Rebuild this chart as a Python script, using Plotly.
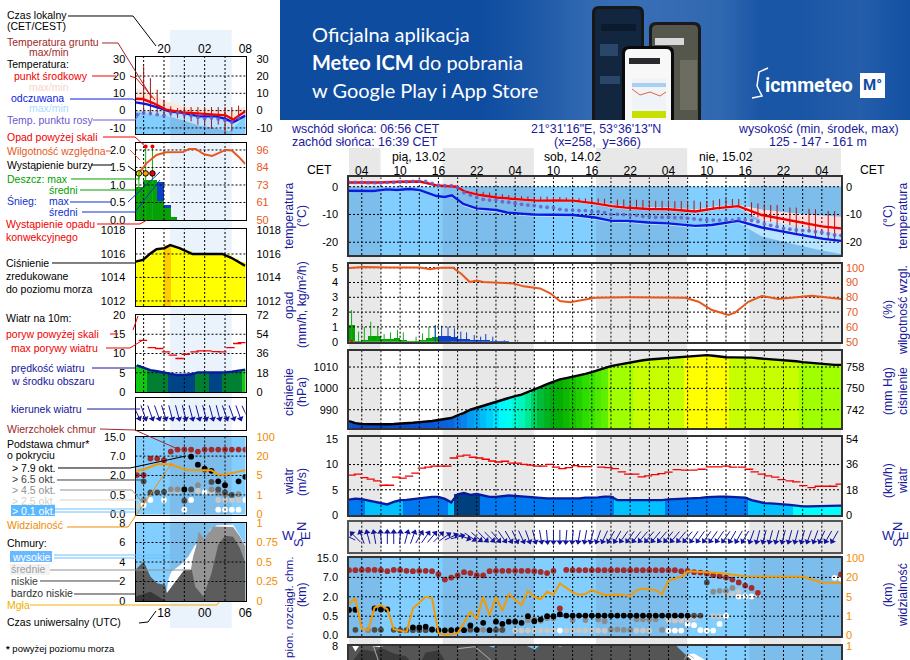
import numpy as np
import plotly.graph_objects as go
from plotly.colors import sample_colorscale

W, H = 910, 660
FONT = "Liberation Sans"
NAVY = "#1a1a9c"
ORANGE = "#f08c00"
RH_COL = "#e8581c"

# ---- large meteogram (hours since 13.02 00:00 CET)
RED_H = [2, 6.9, 10, 13.1, 15.7, 18.8, 20.2, 22.5, 25.1, 28.2, 31.4, 34.5, 37.1, 40.5, 43.1, 45.7, 48.8, 52, 56.2, 59.3, 62.9, 66.6, 71.8, 76, 79]
RED_T = [1.5, 1.5, 1.8, 1.9, .5, 0, -1.8, -3, -3.9, -4.5, -5, -4.9, -5, -6, -7, -7.6, -8, -8.1, -8.9, -7.8, -7, -10.2, -12.6, -14.3, -15]
RED_MAX = [1.9, 1.9, 2.2, 2.3, 1, .4, -1.4, -2.5, -3.4, -4, -4.5, -4.4, -4.5, -5.4, -6.4, -7, -7.4, -7.5, -8.2, -7, -6.5, -8.2, -9.6, -10.4, -10.8]
RED_MIN = [1.1, 1.1, 1.4, 1.5, 0, -.5, -2.3, -3.5, -4.4, -5, -5.5, -5.4, -5.5, -6.6, -7.6, -8.2, -8.6, -8.7, -9.5, -8.4, -7.6, -12.1, -14.6, -16.2, -17.2]
FELT_H = [2, 5.8, 7.9, 9.5, 11.5, 13.1, 15.7, 17, 18.1, 19.9, 22, 25.1, 26.7, 30.8, 37.1, 40.5, 43.1, 45.7, 48.8, 52, 56.2, 58.8, 62.9, 66.6, 71.8, 76, 79]
FELT_T = [-1.44, -1.56, -.96, -1.2, -.84, -1.2, -3.35, -3.7, -3.1, -6.2, -7.8, -8.4, -9.3, -10, -10.2, -11.1, -12.3, -12.3, -12.9, -13.2, -14.1, -13.8, -12.3, -14.7, -17, -18.7, -19.5]
FELT_MAX = [-1.1, -1.2, -.6, -.9, -.5, -.9, -3, -3.3, -2.7, -5.6, -7.3, -8, -8.9, -9.6, -9.8, -10.7, -11.9, -11.9, -12.5, -12.8, -13.7, -13.4, -11.9, -12, -14, -16, -17.2]
FELT_MIN = [-1.9, -2, -1.4, -1.7, -1.3, -1.7, -3.9, -4.2, -3.7, -7, -8.6, -9.2, -10, -10.8, -11, -11.9, -13, -13, -13.7, -14, -14.9, -14.6, -13, -17.9, -20.8, -23, -24.2]
DEW_H = list(range(2, 80))
DEW_T = [1.55, 1.55, 1.55, 1.45, 1.45, 1.45, 1.55, 1.55, 1.7, 1.8, 1.9, 2.05, 1.9, 1.2, .6, .35, .35, -.35,
         -2.15, -3, -3.85, -4.55, -4.8, -4.8, -5.4, -5.6, -6, -6.35, -6.6, -6.8, -7.2, -7.4, -7.55, -8.15, -8.4, -8.4, -8.6, -8.6, -9,
         -9, -9.35, -9.95, -9.95, -10.05, -10.2, -10.3, -10.65, -10.8, -11, -11, -11, -11.15, -11.15, -11.4, -11.6, -11.85, -12, -12, -12, -12, -12, -11.6, -12, -12.2, -12.6, -13.4, -13.9, -14.4, -15, -15.3, -15.6, -15.8, -15.9, -16.2, -16.4, -16.9, -17.4, -17.5]
GROUND_H = [22, 23, 24, 25, 26, 27, 28, 29, 30, 31, 32, 33, 34, 35, 36, 37, 38, 39, 40, 41, 42, 44, 45, 46, 47, 48, 49, 50, 51, 52, 53, 54, 55, 56, 57, 58, 59, 60, 61, 62, 63, 65, 66, 67, 68, 69, 71, 72, 74, 75, 77, 78]
GROUND_MAX = [-1.6, -1.8, -2.1, -2.5, -2.7, -3, -3.2, -3.4, -3.5, -3.6, -3.6, -3.6, -3.6, -3.7, -3.9, -4, -4.1, -4.2, -4.2, -4.2, -4.3, -4.6, -4.6, -4.6, -4.7, -4.8, -4.9, -5.1, -5.1, -5, -5.2, -5.2, -5.2, -5, -5.4, -5.4, -4.9, -4.4, -4.4, -4.4, -4.4, -5.6, -6, -6.3, -6.6, -6.6, -7.5, -7.5, -8, -8.1, -8.7, -8.7]
GROUND_MIN = [-3, -3.3, -3.7, -4, -4.2, -4.4, -4.6, -4.8, -5, -5.2, -5.2, -5.2, -5.1, -5.2, -5.2, -5.3, -5.5, -5.8, -6, -6.3, -6.7, -7.3, -7.6, -7.8, -8, -8.1, -8.1, -8.2, -8.2, -8.3, -8.5, -8.6, -8.8, -9, -8.7, -8.7, -8.4, -8.2, -7.5, -7.3, -7.3, -10.8, -11.1, -12.6, -12.6, -13.8, -13.8, -17.1, -16.2, -18.6, -19.2, -19.8]

RH_H = [2, 4.2, 8.4, 13.1, 14.7, 16.2, 18.3, 19.6, 20.9, 22, 23, 25.1, 27.7, 29.3, 31.9, 33.5, 35, 36.6, 40.5, 45.7, 54.6, 56.7, 58.8, 61.4, 62.4, 64.5, 66.6, 69.2, 74.4, 79]
RH = [99.8, 100.4, 100.2, 100.2, 98.9, 100, 100, 95.7, 90.3, 91.4, 90.3, 90.1, 89.4, 87.4, 86, 82.7, 77.5, 76.6, 79.7, 80, 79.7, 77, 71.4, 68, 69.6, 77, 80.9, 78.8, 81, 78.8]
RAIN_H = list(range(2, 18))
RAIN_MEAN = [1.13, .02, .1, .38, .38, .18, .15, .22, .1, .02, .02, .1, .25, .3, .15, .05]
SNOW_H = list(range(16, 27))
SNOW_MEAN = [.38, .38, .35, .2, .2, .1, .07, .05, .02, .02, .02]
RAIN_SPIKE_H = [2.4, 3.5, 4.4, 5.4, 6.5, 7.5, 8.5, 9.6, 10.5, 12.5, 13.5, 14.5, 15.5]
RAIN_SPIKE = [2.14, .68, 1, 1.35, 1.05, .52, .63, .8, .63, .34, .56, 1, 1.1]
SNOW_SPIKE_H = [15.5, 16.5, 17.5, 18.5, 19.5, 20.4, 21.6, 22.6, 23.4, 24.5, 26.3, 28.4, 32.7]
SNOW_SPIKE = [1.13, 1.08, 1, .9, .68, .63, .45, .34, .52, .34, .1, .1, .07]

PRESS_H = list(range(2, 80))
PRESS = [984.7, 983.7, 983.3, 983.2, 983.1, 983.1, 983.2, 983.3, 983.4, 983.6, 983.9, 984.2, 984.4, 984.7, 985.2, 985.6, 986.1, 987.4, 988.5, 990, 990.9, 992, 992.9, 993.9, 994.8, 995.6, 996.4, 997.1, 998.2, 999.3,
         1000.7, 1002, 1003.2, 1004.2, 1004.8, 1005.4, 1006, 1006.8, 1007.6, 1008.6, 1009.5, 1010.4, 1011, 1011.6, 1012.1, 1012.7, 1013.2, 1013.5, 1013.7, 1013.9, 1014.1, 1014.3, 1014.5, 1014.8, 1015.1, 1015.4, 1015.6, 1015.3, 1014.9, 1014.6,
         1014.5, 1014.5, 1014.5, 1014.4, 1014.1, 1013.9, 1013.6, 1013.4, 1013.2, 1012.9, 1012.7, 1012.3, 1012, 1011.6, 1011.3, 1011.1, 1011, 1011]

WIND_H = list(range(2, 80))
WIND = [3.05, 3.25, 3.15, 2.9, 2.7, 2.3, 2.1, 2.6, 2.95, 3.0, 3.15, 3.4, 3.5, 3.6, 3.6, 3.2, 2.5, 4.1, 4.35, 4.0, 4.15, 3.8, 3.6, 3.6, 3.75, 3.85, 3.8, 3.7, 3.6, 3.4, 3.3, 3.3, 3.3, 3.3, 3.3, 3.25, 3.3, 3.45, 3.45,
        3.5, 3.65, 3.65, 2.95, 2.95, 2.95, 2.85, 2.8, 2.85, 2.95, 2.95, 3.1, 3.15, 3.2, 3.2, 3.25, 3.4, 3.55, 3.65, 3.65, 3.65, 3.6, 3.5, 3.45, 2.95, 2.6, 2.35, 2.3, 2.25, 2.1, 2.0, 1.8, 1.7, 1.7, 1.75, 1.8, 1.85, 1.85, 1.85]
GUST_H = [2.4, 3.4, 4.4, 5.4, 6.4, 7.4, 8.4, 9.4, 10.4, 11.4, 12.4, 13.4, 14.4, 15.4, 16.4, 17.4, 18.4, 19.4, 20.4, 21.4, 22.4, 23.4, 24.4, 25.4, 26.4, 27.4, 28.4, 29.4, 30.4, 31.4, 32.4, 33.4, 34.4, 35.4, 36.4, 37.4, 38.4, 39.4,
          41.5, 42.6, 43.6, 44.7, 45.7, 46.8, 47.8, 48.8, 49.9, 50.9, 52, 53.3, 54.6, 55.9, 57.2, 58.5, 59.8, 61.1, 62.1, 63.5, 64.6, 65.5, 66.6, 67.6, 68.7, 69.7, 71, 72, 73.1, 74.4, 75.5, 76.8, 77.8, 78.8]
GUST = [7.9, 8.1, 7.4, 7.1, 6.75, 5.9, 5.9, 7.5, 7.3, 7.7, 8.3, 9.3, 9.5, 9.7, 9.7, 9.7, 11.3, 11.65, 11.85, 11.45, 11.3, 11.05, 10.7, 10.5, 10.65, 10.3, 10.3, 10.05, 9.9, 9.7, 9.7, 10.05, 9.5, 9.2, 9.4, 9.8, 9.6, 9.6,
        9.47, 9.4, 9.2, 8.55, 8.1, 8.1, 7.55, 7.75, 8, 8.2, 8.5, 9, 8.9, 8.9, 9.07, 9.54, 9.54, 9.67, 9.47, 9.47, 9.07, 8.55, 8.1, 7.75, 7.5, 7, 6.75, 6.55, 5.83, 5.43, 5.7, 5.7, 5.7, 6.1]
DIR_H = list(range(2, 79))
WIND_DIR = [-64, -45, -20, -15, -10, -5, 0, 0, 5, 15, 20, 30, 35, 40, 45, 55, 65, 75, 110, 125, 130, 135, 135, 140, 145, 150, 155, 155, 160, 165, 170, 175, 180, 180, 185, 185, 190, 190, 195,
            200, 205, 210, 210, 215, 215, 218, 220, 220, 220, 220, 220, 220, 220, 220, 215, 215, 215, 215, 215, 215, 210, 210, 210, 200, 195, 195, 195, 195, 195, 195, 195, 195, 200, 200, 205, 210, 210]

TOP_H = list(range(2, 35)) + list(range(36, 67)) + [79]
TOP_KM = [10, 10, 10.1, 10.1, 10.1, 10, 9.55, 10.1, 10.1, 9.7, 9.55, 9.7, 9.7, 9.55, 8.3, 6.45, 6.95, 7.8, 9.15, 8.8, 7.9, 7.8, 9.55, 9.7, 9.7, 9.7, 9.7, 9.7, 9.7, 9.55, 9.25, 8.8, 9.7,
          10.1, 10, 10, 10, 10, 10, 10, 10, 10, 10, 10, 10, 10, 10, 10, 10, 10, 10, 9.55, 9.7, 9.15, 9, 8.6, 7.9, 7.5, 6.95, 6.45, 5.7, 4.9, 4.3, 3, 8.2]
TOP2_H = [35]
TOP2_KM = [1.1]
BLACK_H = [2, 3, 6, 7, 8, 12, 13, 14, 15, 16, 17, 18, 19, 20, 21, 22, 23, 24, 25, 26, 27, 28, 29, 30, 31, 32, 33, 34, 35] + list(range(36, 56))
BLACK_KM = [.98, 1, 1.1, 1.02, 1.02, .21, .21, .23, .16, .14, .135, .14, .15, .14, .26, .15, .33, .14, .36, .3, .36, .36, .33, .5, .37, .42, .5, .5, .65] + [.55] * 20
DARK_H = [3, 6, 7, 9, 10, 11, 12, 13, 14, 15, 21, 25, 26, 56, 57, 58]
DARK_KM = [.15, .15, .15, .15, .14, .14, .14, .14, .14, .15, .16, .15, .15, .55, .55, 5.7]
MID_H = [5, 21, 22, 23, 25, 26, 30, 31, 32, 33, 34, 37, 39, 41, 42, 43, 44, 45, 46, 47, 48, 49, 50, 51, 59, 60, 61, 62]
MID_KM = [.14, .14, .15, .15, .14, .14, .4, .42, .38, .45, .45, .4, .4, .42, .37, .16, .16, .15, .15, .42, .42, .42, .42, .15, 3.3, 3.55, 3.55, 4.3]
LIGHT_H = [28, 29, 30, 31, 32, 33, 34, 36, 37, 38, 39, 40, 41, 42, 47, 48, 49, 52, 53, 54, 55, 56, 57, 59, 60, 61, 62, 63]
LIGHT_KM = [.13, .13, .13, .13, .13, .13, .13, .13, .13, .13, .13, .13, .13, .13, .13, .13, .13, .39, .39, .39, .4, .45, .5, .52, .52, 2.7, 2.7, 3.3]
WHITE_H = [35, 52, 53, 54, 55, 56, 57, 58, 59, 60, 61, 63, 64, 65, 66, 78, 79]
WHITE_KM = [.13, .13, .13, .13, .3, .27, .14, .13, .13, .3, .52, 2.1, 2.1, 2.1, 2.7, 6.9, 6.7]
VIS_H = [2, 3, 4, 5, 6, 7, 8, 9, 11, 12, 14, 15, 16, 17, 19, 21, 22, 23, 24, 25, 26, 27, 29, 30, 31, 32, 33, 34, 35, 37, 38, 39, 40, 42, 44, 46, 47, 48, 50, 51, 52, 54, 55, 57, 60, 64, 68, 73, 76, 79]
VIS = [3.5, 4.7, .33, .29, 2.8, 3.3, 2.4, .33, .19, 2.6, 5, 4.7, .12, .05, .12, 1.9, .86, 5, 1.2, 5, 2.1, 7.1, 3.3, 9.6, 5, 4.5, 8.9, 6.6, 15.3, 8.4, 6.6, 7.1, 10.1,
       6.4, 6.8, 5.6, 10.1, 11.5, 10.1, 7.1, 17.3, 22.4, 45.6, 41.6, 38.4, 24.8, 22.4, 22.4, 16.1, 15.8]

LOW_H = [2, 2.4, 3, 3.6, 4, 6, 7, 8, 23, 24.6, 25.4, 29, 31.1, 32.1, 34, 35, 36.5, 53, 53.5, 55, 56]
LOW = [8.2, 8.1, 7.4, 8, 8.1, 7.9, 7.85, 8.2, 8.2, 7.8, 8.2, 8.2, 7.6, 8.2, 8.2, 7.9, 8.2, 8.2, 7.8, 6.9, 6.3]
VLOW_H = [2, 4, 6, 7, 9, 11, 12, None, 13, 14, 16, 17]
VLOW = [6, 7.6, 7.4, 7.8, 7.2, 6.9, 6, None, 6, 7.3, 7.5, 6.5]
HIGH_H = [2, 4, None, 53.5, 54.5, 55, 56, 57, 58]
HIGH = [8.2, 8.2, None, 6, 6.6, 7.1, 7.2, 6.8, 6.4]
EDGE_H = [5.8, 6.6, None, 19.1, 21.7, 24.3, None, 54.5, 55, 56]
EDGE = [8, 6.46, None, 7.7, 7.9, 6.46, None, 6.6, 7.15, 6.7]
FOG_H = [16, 17, 18]

# ---- small meteogram (local hours, 16 = 16:00)
S_RED_H = [15.8, 16.9, 18.4, 20.3, 22.8, 25.2, 27.6, 29.1, 30.2, 31.8, 32]
S_RED = [6.9, 6.7, 4.4, .6, -1, -1.7, -2.5, -2.7, -5.2, -.6, -.3]
S_PINK_H = [15.8, 17.9, 20.3, 22.8, 25.2, 27.6, 30, 32]
S_PINK_MAX = [13, 10.2, 5.4, 2.5, 1.5, .6, -.4, 2.5]
S_PINK_MIN = [4.8, 3.8, .4, -1.3, -3.3, -3.3, -6.7, -2.9]
S_FELT_H = [15.8, 17.4, 19.4, 20.8, 22.8, 25.2, 27.6, 29.1, 30.2, 31.8, 32]
S_FELT = [4.8, 3.8, 1.5, -.4, -1.3, -3.3, -3.3, -4.8, -6.7, -2.9, -2.9]
S_ICE_H = [15.8, 17.9, 20.3, 22.8, 25.2, 27.6, 29.6, 32]
S_ICE_MAX = [-.1, -.1, -.4, -1.3, -3.3, -3.3, -6.7, -2.9]
S_ICE_MIN = [-.4, -2.3, -2.9, -5.6, -8.7, -10, -11.9, -3.3]
S_DEW_H = list(range(16, 32))
S_DEW = [-2.3, -1.3, -1.7, -2.3, -2.7, -1.3, -1.3, -2.3, -2.9, -3.8, -4.6, -4.2, -4.8, -5.6, -6.7, -4.2]
S_GROUND_H = list(range(17, 32))
S_GROUND_MAX = [25.6, 18.8, 12.1, 6.3, 2.5, 1.5, 2.1, 2.1, 2.1, 2.1, 2.1, 2.1, 2.1, 2.1, 2.9]
S_GROUND_MIN = [-2.3, -2.3, -1.3, -3.3, -3.3, -4.2, -5.2, -6.2, -8.1, -9, -10.6, -8.1, -12.9, -11.9, -5.2]
S_RH_H = [15.8, 16.7, 17.4, 18.9, 20.3, 22.8, 23.7, 24.7, 25.9, 27.1, 29.1, 30, 31, 32]
S_RH = [80.7, 82.9, 87.2, 92.7, 94.5, 94.7, 96.7, 96.7, 93.2, 92.1, 96, 95.6, 91.6, 86.8]
S_RAIN_H = [16.3, 17.4, 18.4, 19.4, 20.4, 21.4]
S_RAIN = [.93, 1.14, 1.14, .52, .33, .07]
S_SNOW = [0, 0, 0, 1.08, .43, 0]
S_SPIKE_H = [16.3, 17.3, 18.3]
S_SPIKE = [1.24, 2.1, 2.1]
S_STORM_H = [16.3, 17.3, 18.3]
S_STORM = [1.33, 1.33, 1.33]
S_STORM_COL = ["#ffe000", "#ffa000", "#f00000"]
S_OVER_H = [17.3, 18.3]
S_OVER = [2.1, 2.1]
S_PRESS_H = [15.8, 16.9, 17.9, 18.9, 20.1, 20.9, 22.3, 24.2, 28.6, 30, 31.8, 32]
S_PRESS = [1015.35, 1015.5, 1016, 1016.4, 1016.5, 1016.75, 1016.5, 1016, 1016, 1015.65, 1015.05, 1015]
S_PRESS_BAR_H = [x + .5 for x in range(15, 33)]
S_PRESS_BAR = [1015.3, 1015.4, 1015.7, 1016.2, 1016.45, 1016.75, 1016.6, 1016.4, 1016.2, 1016.05, 1016, 1016, 1016, 1016, 1015.85, 1015.55, 1015.25, 1015.05]
S_WIND_H = list(range(16, 33))
S_WIND = [6.9, 6.2, 5.7, 5.4, 5.1, 4.8, 4.4, 4.4, 4.6, 5.1, 5.1, 4.95, 4.95, 5.1, 5.3, 5.5, 5.8]
S_GUST_H = [16.9, 18.2, 19.3, 20.3, 21.3, 22.3, 23.2, 24.5, 25.4, 26.4, 27.6, 28.6, 29.8, 30.8, 31.5]
S_GUST = [13.4, 11.55, 11.3, 10.4, 9.6, 8.7, 9.8, 10.4, 10.7, 10.7, 10.5, 10.4, 11.55, 12.6, 12.85]
S_DIR_H = list(range(16, 33))
S_DIR = [155, 160, 160, 160, 162, 165, 165, 165, 165, 165, 165, 165, 165, 160, 160, 160, 155]
S_TOP_H = list(range(16, 33))
S_TOP = [2.1, 2.1, 6.35, 6.35, 5.95, 8.85, 9.7, 9.7, 9.7, 8.85, 9.7, 9.7, 9.7, 9.7, 9.7, 9.7, 9.7]
S_BLACK_H = [23, 24, 25, 26, 27, 28, 29, 31, 32]
S_BLACK = [.92, 6.85, 4.8, 3.75, 3.2, 1.55, 1.25, 1.55, 1.9]
S_DARK_H = [17, 18, 19, 20, 23, 24, 27, 28, 29, 30]
S_DARK = [1.55, .7, .7, .74, .35, .92, 1.5, .92, .7, .5]
S_MID_H = [17, 21, 22, 25, 26, 27, 28, 29, 31]
S_MID = [.37, .92, .92, 1.25, 3.35, .92, .7, .55, .55]
S_LIGHT_H = [16, 21, 22, 25, 27, 28, 29, 30, 31]
S_LIGHT = [.21, .85, .8, .8, .7, .37, .37, .37, .37]
S_WHITE_H = [17, 18, 20, 23, 24, 26, 27, 28, 29, 30, 31, 32]
S_WHITE = [.24, .37, .37, .12, .37, .72, .72, .12, .12, .12, .12, .37]
S_VIS_H = [15.8, 16, 17, 19, 21, 23, 24, 27, 28, 29, 31, 32]
S_VIS = [8.6, 8.6, 9.7, 13.7, 13.7, 9.7, 9, 9, 5.8, 5.8, 8, 9]
C_HIGH_H = [20.2, 20.7, 21.1, 22.4, 23.6, 24.6, 26, 26.8, 27.8, 30.2, 32]
C_HIGH = [0, 2.33, 3.02, 3.7, 4.56, 5.77, 5.94, 7.3, 7.76, 7.82, 5.77]
C_MID_H = [22.9, 23.8, 24.3, 24.8, 25.1, 26, 26.5, 27.3, 30.2, 31.2, 32]
C_MID = [1.82, 2.5, 4.56, 5.77, 7.13, 6.28, 6.96, 7.65, 7.6, 6.62, 5.6]
C_LOW_H = [15.8, 17, 18, 19, 20.2, 20.4, 23, 24.1, 24.6, 25.8, 27, 28, 29, 30.2, 31.2, 32]
C_LOW = [3.2, 4.05, 2.5, 1.82, 1.65, .8, 3.2, 3.2, 1.47, .45, 2.85, 5.77, 6.7, 6.6, 5.4, 3.88]
C_VLOW_H = [15.8, 18, 20, 20.3]
C_VLOW = [.45, .96, .1, 0]
S_FOG_H = [28, 29, 30, 31]
S_FOG = [.14, .14, .14, .14]

# ---- sun and shading
NIGHT = [(2, 6.93), (16.65, 30.93), (40.65, 54.93), (64.65, 79)]
S_NIGHT = [(20.8, 29.8)]
BLUE_DAY, BLUE_NIGHT = "#82cfff", "#7cbdec"
PRESS_SCALE = [[0, "#0a2cb0"], [.1, "#0a4cd0"], [.2, "#0a78e8"], [.3, "#00b0f8"], [.4, "#00ffff"], [.47, "#00f0a0"], [.53, "#00c040"],
               [.63, "#00a800"], [.71, "#30e000"], [.8, "#70f400"], [1, "#70f400"]]


def press_color(v):
    if v >= 1016.7:
        return "#ffcc00"
    if v >= 1014.6:
        return "#ffff00"
    if v >= 1012.7:
        return "#c8ff00"
    if v >= 1010.4:
        return "#a0ff00"
    return sample_colorscale(PRESS_SCALE, (v - 980) / 38)[0]


shapes, annos = [], []
fig = go.Figure()
layout = {}
n_ax = 0


def px(x):
    return x / W


def py(y):
    return 1 - y / H


def rect(x0, y0, x1, y1, color, layer="below"):
    shapes.append(dict(type="rect", xref="paper", yref="paper", x0=px(x0), x1=px(x1), y0=py(y0), y1=py(y1),
                       fillcolor=color, line_width=0, layer=layer))


def path(pts, color, width=1, dash=None):
    d = "M" + " L".join(f"{px(a):.5f},{py(b):.5f}" for a, b in pts)
    shapes.append(dict(type="path", xref="paper", yref="paper", path=d, line=dict(color=color, width=width, dash=dash), layer="above"))


def phone(x0, y0, x1, y1, r, color):
    d = (f"M{px(x0):.5f},{py(y1):.5f} L{px(x0):.5f},{py(y0 + r):.5f} Q{px(x0):.5f},{py(y0):.5f} {px(x0 + r):.5f},{py(y0):.5f} "
         f"L{px(x1 - r):.5f},{py(y0):.5f} Q{px(x1):.5f},{py(y0):.5f} {px(x1):.5f},{py(y0 + r):.5f} L{px(x1):.5f},{py(y1):.5f} Z")
    shapes.append(dict(type="path", xref="paper", yref="paper", path=d, fillcolor=color, line_width=0, layer="above"))


def text(s, x, y, color="black", size=10.5, anchor="left", angle=0, bg=None, family=FONT, yanchor="middle"):
    annos.append(dict(text=s, xref="paper", yref="paper", x=px(x), y=py(y), xanchor=anchor, yanchor=yanchor, showarrow=False,
                      font=dict(family=family, size=size, color=color), textangle=angle, borderpad=0, bgcolor=bg))


def panel(box, xr, yr, xt=None, xl=None, xside="bottom", yt=(), yl=None, rt=None, rl=None, rcol="black", ycol="black",
          stand=7, rstand=10, frame="black", fw=1, xstand=1):
    global n_ax
    x0, y0, x1, y1 = box
    n_ax += 1
    xa, ya = f"x{n_ax}", f"y{n_ax}"
    layout[f"xaxis{n_ax}"] = dict(domain=[px(x0), px(x1)], range=xr, anchor=ya, side=xside, showgrid=False, zeroline=False,
                                  showline=True, mirror=True, linecolor=frame, linewidth=fw, ticks="",
                                  tickmode="array", tickvals=xt or [], ticktext=xl or [], showticklabels=bool(xt),
                                  tickfont=dict(family=FONT, size=12, color="black"), ticklabelstandoff=xstand)
    layout[f"yaxis{n_ax}"] = dict(domain=[py(y1), py(y0)], range=yr, anchor=xa, showgrid=False, zeroline=False,
                                  showline=True, mirror=True, linecolor=frame, linewidth=fw, ticks="",
                                  tickmode="array", tickvals=list(yt), ticktext=yl or [str(v) for v in yt],
                                  tickfont=dict(family=FONT, size=11, color=ycol), ticklabelstandoff=stand)
    if rt is not None:
        n_ax += 1
        layout[f"yaxis{n_ax}"] = dict(domain=[py(y1), py(y0)], range=yr, anchor=xa, overlaying=ya, side="right", showgrid=False,
                                      zeroline=False, showline=False, ticks="", tickmode="array", tickvals=list(rt), ticktext=rl,
                                      tickfont=dict(family=FONT, size=11, color=rcol), ticklabelstandoff=rstand)
        fig.add_trace(go.Scatter(x=[xr[0]], y=[yr[0]], xaxis=xa, yaxis=f"y{n_ax}", mode="markers", marker=dict(opacity=0), hoverinfo="skip"))
    return dict(x=xa, y=ya, xr=xr, yr=yr, box=box)


def add(p, trace):
    trace.update(xaxis=p["x"], yaxis=p["y"], hoverinfo="skip")
    fig.add_trace(trace)


def grid(p, xs, ys):
    gx, gy = [], []
    for v in xs:
        gx += [v, v, None]
        gy += [p["yr"][0], p["yr"][1], None]
    for v in ys:
        gx += [p["xr"][0], p["xr"][1], None]
        gy += [v, v, None]
    add(p, go.Scatter(x=gx, y=gy, mode="lines", line=dict(color="black", width=1, dash="2px,2px")))


def line(p, x, y, color, width=2, shape="linear"):
    add(p, go.Scatter(x=x, y=y, mode="lines", line=dict(color=color, width=width, shape=shape)))


def stems(p, x, lo, hi, color, width=1):
    sx, sy = [], []
    for a, b, c in zip(x, lo, hi):
        sx += [a, a, None]
        sy += [b, c, None]
    line(p, sx, sy, color, width)


def dots(p, x, y, color, size=5.8, opacity=1):
    add(p, go.Scatter(x=x, y=y, mode="markers", marker=dict(color=color, size=size, opacity=opacity, line_width=0)))


def band(p, x, hi, lo, color):
    add(p, go.Scatter(x=list(x) + list(x)[::-1], y=list(hi) + list(lo)[::-1], mode="lines", fill="toself",
                      fillcolor=color, line_width=0))


def fill(p, x, y, color):
    add(p, go.Scatter(x=x, y=y, mode="lines", fill="tozeroy", fillcolor=color, line_width=0, connectgaps=False))


def bars(p, x, y, color, width=1, base=None):
    add(p, go.Bar(x=x, y=y, base=base, width=width, marker=dict(color=color, line_width=0)))


def km_pos(v):
    return np.interp(v, [0, .5, 2, 7, 15], [0, 1, 2, 3, 4])


def vis_pos(v):
    return np.interp(v, [0, 1, 5, 20, 100], [0, 1, 2, 3, 4])


def arrows(p, hours, dirs, center, length, per_hour, head=6):
    lx, ly, hx, hy = [], [], [], []
    for h, d in zip(hours, dirs):
        s, c = np.sin(np.radians(d)), np.cos(np.radians(d))
        lx += [h - s * length / 2 / per_hour, h + s * length / 2 / per_hour, None]
        ly += [center - c * length / 2, center + c * length / 2, None]
        hx.append(h + s * (length / 2 - 2) / per_hour)
        hy.append(center + c * (length / 2 - 2))
    fig.add_trace(go.Scatter(x=lx, y=ly, xaxis=p["x"], yaxis=p["y"], mode="lines", line=dict(color="#14149a", width=1), cliponaxis=False, hoverinfo="skip"))
    fig.add_trace(go.Scatter(x=hx, y=hy, xaxis=p["x"], yaxis=p["y"], mode="markers", cliponaxis=False, hoverinfo="skip",
                             marker=dict(symbol="triangle-up", angle=dirs, size=head, color="#14149a", line_width=0)))


# ---- banner
BANNER_X = [280, 480, 540, 590, 640, 720, 760, 800, 860, 910]
BANNER_GLOW = [0, 0, .35, .75, .85, .7, .25, .25, .45, .1]
bn = panel((280, 0, 910, 120), [280, 910], [0, 1], frame="rgba(0,0,0,0)")
add(bn, go.Heatmap(x=BANNER_X, y=[0, 1], z=[BANNER_GLOW, BANNER_GLOW], zsmooth="best", showscale=False, zmin=0, zmax=1,
                   colorscale=[[0, "#0e4ca0"], [1, "#3f74b8"]]))
layout[bn["x"].replace("x", "xaxis")].update(visible=False)
layout[bn["y"].replace("y", "yaxis")].update(visible=False)

phone(592, 6, 644, 120, 7, "#17171a")
phone(595, 9, 641, 120, 5, "#13263f")
rect(601, 24, 636, 31, "#0c1a2e", "above")
rect(600, 44, 618, 56, "#2a4668", "above")
rect(600, 76, 620, 84, "#2a4668", "above")
phone(649, 22, 701, 120, 7, "#1a1a1c")
phone(652, 25, 698, 120, 5, "#55564c")
rect(655, 38, 684, 45, "#d8d8d8", "above")
rect(680, 60, 697, 110, "#6c6c60", "above")
phone(622, 46, 674, 120, 7, "#0a0a0c")
phone(625, 49, 671, 120, 5, "#f8f8f8")
rect(629, 58, 660, 64, "#2a2a2e", "above")
rect(632, 78, 666, 111, "#f0f4f8", "above")
rect(632, 83, 666, 87, "#a8d0ee", "above")
rect(632, 111, 666, 118, "#c8e000", "above")
path([(632, 89), (640, 95), (650, 92), (660, 96), (666, 92)], "#e06040", 1)
text("Oficjalna aplikacja", 311, 34, "white", 20, family="Lato")
text("<b>Meteo ICM</b> do pobrania", 311, 62, "white", 20, family="Lato")
text("w Google Play i App Store", 311, 90, "white", 20, family="Lato")
text("<b>icmmeteo</b>", 764, 85, "white", 19.5, family="Roboto")
rect(860, 73, 885, 98, "white", "above")
text("<b>M°</b>", 872.5, 85.5, "#0e4ca0", 15, "center", family="Roboto")
path([(768, 68), (759, 72), (757, 86), (762, 96), (752, 98)], "white", 1.5)

# ---- page shading
rect(170, 30, 231.7, 628, "#eaf2fc")
for a, b in NIGHT:
    rect(349 + (a - 2) * 6.39, 148, 349 + (b - 2) * 6.39, 660, "#e8e8e8")


def sky(box, yb, hour_px, h0, nights):
    x0, y0, x1, y1 = box
    rect(x0, yb, x1, y1, BLUE_DAY)
    for a, b in nights:
        rect(max(x0, x0 + (a - h0) * hour_px), yb, min(x1, x0 + (b - h0) * hour_px), y1, BLUE_NIGHT)


XL = [2, 79]
XS = [15.8, 32.02]
GRID_L = list(range(4, 77, 3))
GRID_S = [17, 20, 23, 26, 29]
KL = 6.39
KS = 6.87
LEFT, RIGHT = 349, 841
SL, SR = 135.5, 245.5
BF = dict(frame="#333333", fw=1.5, stand=7, rstand=4)

# ---- large: temperature
box = (LEFT, 177.3, RIGHT, 255)
sky(box, 186.7, KL, 2, NIGHT)
p = panel(box, XL, [-24.6, 3.4], GRID_L[::2], ["04", "10", "16", "22", "04", "10", "16", "22", "04", "10", "16", "22", "04"], "top",
          [0, -10, -20], None, [0, -10, -20], ["0", "-10", "-20"], xstand=-4, **BF)
band(p, RED_H, RED_MAX, RED_MIN, "#ffd9dc")
band(p, FELT_H, FELT_MAX, FELT_MIN, "#b8e4ff")
grid(p, GRID_L, [0, -10, -20])
stems(p, GROUND_H, GROUND_MIN, GROUND_MAX, "#a01818")
line(p, FELT_H, FELT_T, "#0a1ae0", 2.4)
line(p, RED_H, RED_T, "#f00000", 2.4)
dots(p, DEW_H, DEW_T, "#6a5acd", 3.8, .85)

# ---- large: precipitation and humidity
p = panel((LEFT, 264, RIGHT, 341.7), XL, [0, 5.25], None, None, "bottom", [0, 1, 2, 3, 4, 5], None, [0, 1, 2, 3, 4, 5],
          ["50", "60", "70", "80", "90", "100"], RH_COL, **BF)
bars(p, [h + .5 for h in RAIN_H], RAIN_MEAN, "#08a008")
bars(p, [h + .5 for h in SNOW_H], SNOW_MEAN, "#1040c8")
stems(p, RAIN_SPIKE_H, [0] * len(RAIN_SPIKE), RAIN_SPIKE, "#10b010")
stems(p, SNOW_SPIKE_H, [0] * len(SNOW_SPIKE), SNOW_SPIKE, "#1040c8")
grid(p, GRID_L, [1, 2, 3, 4, 5])
line(p, RH_H, (np.array(RH) - 50) / 10, RH_COL, 2)
dots(p, [2.4], [.03], "#f00000", 3)

# ---- large: pressure
p = panel((LEFT, 350.7, RIGHT, 428.3), XL, [981.3, 1017.65], None, None, "bottom", [990, 1000, 1010], None, [990, 1000, 1010],
          ["742", "750", "758"], **BF)
add(p, go.Bar(x=PRESS_H, y=np.array(PRESS) - 981.3, base=981.3, width=1.02,
              marker=dict(color=[press_color(v) for v in PRESS], line_width=0)))
grid(p, GRID_L, [990, 1000, 1010])
line(p, PRESS_H, PRESS, "black", 2.4)

# ---- large: wind
WIND_COLS = ["#00ffff", "#00c0ff", "#0078f0", "#00407f"]
p = panel((LEFT, 437.3, RIGHT, 515), XL, [0, 15.4], None, None, "bottom", [0, 5, 10, 15], None, [0, 5, 10, 15], ["0", "18", "36", "54"], **BF)
bars(p, WIND_H, WIND, [WIND_COLS[i] for i in np.digitize(WIND, [2, 3, 4])], 1.02)
grid(p, GRID_L, [5, 10])
line(p, WIND_H, WIND, "#0a1a9c", 2.4)
add(p, go.Scatter(x=GUST_H, y=GUST, mode="markers", marker=dict(symbol="line-ew", size=6, line=dict(color="#f00000", width=1.3))))

# ---- large: wind direction
p = panel((LEFT, 521.7, RIGHT, 551.7), XL, [0, 30], frame="#555555", fw=2, stand=7)
grid(p, GRID_L, [])
arrows(p, DIR_H, WIND_DIR, 14.7, 14, KL, 6)

# ---- large: cloud base and visibility
box = (LEFT, 558, RIGHT, 636)
sky(box, 558, KL, 2, NIGHT)
p = panel(box, XL, [-.02, 4.0], None, None, "bottom", [0, 1, 2, 3, 4], ["0.0", "0.5", "2.0", "7.0", "15.0"], [0, 1, 2, 3, 4],
          ["0", "1", "5", "20", "100"], ORANGE, **BF)
dots(p, WHITE_H, km_pos(WHITE_KM), "white")
dots(p, LIGHT_H, km_pos(LIGHT_KM), "#c8c8c8")
dots(p, MID_H, km_pos(MID_KM), "#8c8c8c")
dots(p, DARK_H, km_pos(DARK_KM), "#4d4d4d")
dots(p, BLACK_H, km_pos(BLACK_KM), "black")
dots(p, TOP_H, km_pos(TOP_KM), "#a52a2a")
dots(p, TOP2_H, km_pos(TOP2_KM), "#a52a2a")
grid(p, GRID_L, [1, 2, 3])
line(p, VIS_H, vis_pos(VIS), "#f59a00", 2)

# ---- large: clouds (page cuts this panel off)
box = (LEFT, 645.7, RIGHT, 660)
sky(box, 645.7, KL, 2, NIGHT)
p = panel(box, XL, [6.53, 8], None, None, "bottom", [8], ["8"], [8], ["1"], ORANGE, **BF)
fill(p, HIGH_H, HIGH, "white")
fill(p, LOW_H, LOW, "#555555")
fill(p, VLOW_H, VLOW, "#3a3a3a")
line(p, EDGE_H, EDGE, "#b0b0b0", 1)
bars(p, FOG_H, [8 - 6.53] * 3, "#ffb400", .5, base=6.53)
grid(p, GRID_L, [])

# ---- small: temperature
box = (SL, 57, SR, 134)
sky(box, 111, KS, 15.8, S_NIGHT)
p = panel(box, XS, [-13.5, 31], [20, 26, 32], ["20", "02", "08"], "top", [-10, 0, 10, 20, 30], None, [-10, 0, 10, 20, 30],
          ["-10", "0", "10", "20", "30"], xstand=-2)
band(p, S_PINK_H, S_PINK_MAX, S_PINK_MIN, "#ffe6da")
band(p, S_ICE_H, S_ICE_MAX, S_ICE_MIN, "#b8e2ff")
grid(p, GRID_S, [0, 10, 20, -10])
stems(p, S_GROUND_H, S_GROUND_MIN, S_GROUND_MAX, "#a01818")
line(p, S_FELT_H, S_FELT, "#0a1ae0", 2.4)
line(p, S_RED_H, S_RED, "#f00000", 2.4)
dots(p, S_DEW_H, S_DEW, "#6a5acd", 3.8, .85)

# ---- small: precipitation
p = panel((SL, 143.3, SR, 220), XS, [0, 2.19], None, None, "bottom", [0, .5, 1, 1.5, 2], ["0.0", "0.5", "1.0", "1.5", "2.0"], [0, .5, 1, 1.5, 2],
          ["50", "61", "73", "84", "96"], RH_COL)
bars(p, S_RAIN_H, S_SNOW, "#1040c8", 1.02)
bars(p, S_RAIN_H, S_RAIN, "#08a008", 1.02)
stems(p, S_SPIKE_H, [0] * len(S_SPIKE), S_SPIKE, "#10b010")
grid(p, GRID_S, [.5, 1, 1.5, 2])
line(p, S_RH_H, (np.array(S_RH) - 50) / 23, RH_COL, 2)
dots(p, S_OVER_H, S_OVER, "#f00000", 4)
add(p, go.Scatter(x=S_STORM_H, y=S_STORM, mode="markers", marker=dict(color=S_STORM_COL, size=5.5, line=dict(color="black", width=1))))

# ---- small: pressure
p = panel((SL, 229.3, SR, 306), XS, [1011.57, 1018.1], None, None, "bottom", [1012, 1014, 1016, 1018], None, [1012, 1014, 1016, 1018],
          ["1012", "1014", "1016", "1018"])
add(p, go.Bar(x=S_PRESS_BAR_H, y=np.array(S_PRESS_BAR) - 1011.57, base=1011.57, width=1.02,
              marker=dict(color=[press_color(v) for v in S_PRESS_BAR], line_width=0)))
grid(p, GRID_S, [1012, 1014, 1016])
line(p, S_PRESS_H, S_PRESS, "black", 2.4)

# ---- small: wind
S_WIND_COLS = ["#004488", "#008030", "#12c812"]
p = panel((SL, 315, SR, 392), XS, [0, 20], None, None, "bottom", [0, 5, 10, 15, 20], None, [0, 5, 10, 15, 20], ["0", "18", "36", "54", "72"])
bars(p, S_WIND_H, S_WIND, [S_WIND_COLS[i] for i in np.digitize(S_WIND, [5, 5.75])], 1.02)
grid(p, GRID_S, [5, 10, 15])
line(p, S_WIND_H, S_WIND, "#0a1a9c", 2.4)
add(p, go.Scatter(x=S_GUST_H, y=S_GUST, mode="markers", marker=dict(symbol="line-ew", size=6, line=dict(color="#f00000", width=1.3))))

# ---- small: wind direction
p = panel((SL, 398, SR, 430), XS, [0, 32])
grid(p, GRID_S, [])
arrows(p, S_DIR_H, S_DIR, 17, 16, KS, 6)

# ---- small: cloud base
box = (SL, 436.7, SR, 514.5)
sky(box, 436.7, KS, 15.8, S_NIGHT)
p = panel(box, XS, [-.01, 4], None, None, "bottom", [0, 1, 2, 3, 4], ["0.0", "0.5", "2.0", "7.0", "15.0"], [0, 1, 2, 3, 4],
          ["0", "1", "5", "20", "100"], ORANGE)
dots(p, S_WHITE_H, km_pos(S_WHITE), "white")
dots(p, S_LIGHT_H, km_pos(S_LIGHT), "#c8c8c8")
dots(p, S_MID_H, km_pos(S_MID), "#8c8c8c")
dots(p, S_DARK_H, km_pos(S_DARK), "#4d4d4d")
dots(p, S_BLACK_H, km_pos(S_BLACK), "black")
dots(p, S_TOP_H, km_pos(S_TOP), "#a52a2a")
grid(p, GRID_S, [1, 2, 3])
line(p, S_VIS_H, vis_pos(S_VIS), "#f59a00", 2)

# ---- small: clouds
box = (SL, 523, SR, 601)
sky(box, 523, KS, 15.8, S_NIGHT)
p = panel(box, XS, [0, 8], [20, 26, 32], ["18", "00", "06"], "bottom", [0, 2, 4, 6, 8], None, [0, 2, 4, 6, 8],
          ["0", "0.25", "0.5", "0.75", "1"], ORANGE)
fill(p, C_HIGH_H, C_HIGH, "white")
fill(p, C_MID_H, C_MID, "#949494")
fill(p, C_LOW_H, C_LOW, "#5c5c5c")
fill(p, C_VLOW_H, C_VLOW, "#383838")
bars(p, S_FOG_H, [v * 8 for v in S_FOG], "#ffb400", .42)
grid(p, GRID_S, [2, 4, 6])

# ---- large: top labels and side titles
for s, h in [("pią, 13.02", 13), ("sob, 14.02", 37), ("nie, 15.02", 61)]:
    text(s, LEFT + (h - 2) * KL, 157, "black", 12.2, "center")
text("CET", 319, 170, "black", 12.2, "center")
text("CET", 872, 170, "black", 12.2, "center")
text("wschód słońca: 06:56 CET", 290, 129, NAVY, 12.4)
text("zachód słońca: 16:39 CET", 291, 142, NAVY, 12.4)
text("21°31'16\"E, 53°36'13\"N", 596, 129, NAVY, 12.4, "center")
text("(x=258,  y=366)", 597, 142, NAVY, 12.4, "center")
text("wysokość (min, środek, max)", 818, 129, NAVY, 12.4, "center")
text("125 - 147 - 161 m", 818, 142, NAVY, 12.4, "center")

for s, x, y in [("temperatura", 289, 216), ("(°C)", 302, 216), ("opad", 289, 305), ("(mm/h, kg/m²/h)", 302, 305), ("ciśnienie", 289, 392),
                ("(hPa)", 302, 392), ("wiatr", 289, 482), ("(m/s)", 302, 482), ("(km)", 302, 595),
                ("(°C)", 888, 216), ("temperatura", 903, 216), ("(%)", 888, 310), ("wilgotność wzgl.", 903, 310), ("(mm Hg)", 888, 391),
                ("ciśnienie", 903, 391), ("(km/h)", 888, 481), ("wiatr", 903, 481), ("(km)", 888, 595), ("widzialność", 903, 595)]:
    text(s, x, y, NAVY, 12.3, "center", -90)
text("zachmurzenie  pion. rozciągł. chm.", 289, 555, NAVY, 11.8, "center", -90, yanchor="top")
for wx, nx, sx, ex in [(288, 301, 298, 305), (888, 897, 897, 903)]:
    text("W", wx, 535, NAVY, 13, "center")
    text("N", nx, 527, NAVY, 13, "center", -90)
    text("S", sx, 543, NAVY, 13, "center", -90)
    text("E", ex, 536, NAVY, 13, "center", -90)

# ---- left legend
BROWN = "#a02828"
RED = "#f00000"
GREEN = "#00a000"
BLUE = "#1030d0"
LEGEND = [
    ("Czas lokalny", 6, 15, "black"), ("(CET/CEST)", 6, 26, "black"), ("Temperatura gruntu", 6, 42, BROWN), ("max/min", 28, 52, BROWN),
    ("Temperatura:", 6, 64, "black"), ("punkt środkowy", 13, 76, RED), ("max/min", 28, 87, "#f5d8c8"), ("odczuwana", 10, 98, "#0a1ae0"),
    ("max/min", 28, 108, "#a8dcff"), ("Temp. punktu rosy", 6, 120, "#6a5acd"), ("Opad powyżej skali", 6, 137, RED),
    ("Wilgotność względna", 6, 151, RH_COL), ("Wystąpienie burzy", 6, 165, "black"), ("Deszcz: max", 6, 179, GREEN), ("średni", 48, 190, GREEN),
    ("Śnieg:", 6, 201, BLUE), ("max", 48, 201, BLUE), ("średni", 48, 212, BLUE), ("Wystąpienie opadu", 5, 224, RED), ("konwekcyjnego", 5, 237, RED),
    ("Ciśnienie", 5, 263, "black"), ("zredukowane", 5, 276, "black"), ("do poziomu morza", 5, 289, "black"), ("Wiatr na 10m:", 5, 318, "black"),
    ("poryw powyżej skali", 5, 334, RED), ("max porywy wiatru", 10, 348, RED), ("prędkość wiatru", 10, 368, "#14149a"), ("w środku obszaru", 10, 381, "#14149a"),
    ("kierunek wiatru", 10, 409, "#14149a"), ("Wierzchołek chmur", 6, 429, BROWN), ("Podstawa chmur*", 6, 444, "black"), ("o pokryciu", 6, 455, "black"),
    ("> 7.9 okt.", 11, 468, "black"), ("> 6.5 okt.", 11, 479, "#404040"), ("> 4.5 okt.", 11, 490, "#909090"), ("> 2.5 okt.", 11, 501, "#d8d0c8"),
    ("Widzialność", 6, 525, ORANGE), ("Chmury:", 6, 543, "black"), ("niskie", 10, 581, "#404040"), ("bardzo niskie", 10, 593, "#303030"),
    ("Mgła", 6, 605, "#f0b000"), ("Czas uniwersalny (UTC)", 6, 622, "black"),
]
for s, x, y, c in LEGEND:
    text(s, x, y, c)
rect(11, 505, 55, 516, "#58b8ff", "above")
text("> 0.1 okt.", 11, 511, "white")
rect(10, 551, 52, 562, "#6ab8ff", "above")
text("wysokie", 11, 556.5, "white")
rect(10, 564, 50, 575, "#f2f2f2")
text("średnie", 10, 569, "#a0a0a0")
text("<b>*</b> powyżej poziomu morza", 5, 648, "black", 9.5)

LEADERS = [
    ("black", [(68, 16), (133, 16), (156, 46)]), (BROWN, [(102, 43), (118, 43), (152, 98)]), (RED, [(92, 76), (116, 76)]), (RED, [(130, 76), (136, 78), (155, 100)]),
    ("#0a1ae0", [(70, 99), (133, 99), (136, 101)]), ("#6a5acd", [(93, 120), (135, 120), (140, 113)]), (RED, [(103, 137), (135, 137), (146, 147)]),
    (RH_COL, [(106, 151), (111, 151)]), (RH_COL, [(130, 150), (140, 160)]), ("black", [(91, 165), (112, 165)]), ("black", [(128, 166), (135, 171)]),
    (GREEN, [(71, 179), (139, 179), (139, 172)]), (GREEN, [(80, 190), (135, 190)]), (BLUE, [(70, 202), (112, 202)]), (BLUE, [(128, 202), (160, 172)]),
    (BLUE, [(82, 212), (135, 212), (160, 180)]), (RED, [(97, 224), (140, 224), (147, 220)]), ("black", [(52, 263), (135, 263)]),
    (RED, [(110, 334), (118, 334)]), (RED, [(133, 330), (138, 316)]), (RED, [(106, 348), (130, 348), (143, 340)]), ("#14149a", [(92, 368), (135, 368)]),
    ("#14149a", [(87, 409), (140, 409)]), (BROWN, [(100, 429), (135, 430), (180, 450)]), ("black", [(58, 468), (130, 468), (186, 456)]),
    ("#404040", [(57, 480), (143, 480)]), ("#909090", [(60, 490), (132, 490), (143, 503)]), ("#d8d0c8", [(60, 500), (138, 500), (141, 505)]),
    ("#6ac0ff", [(55, 509), (135, 509)]), ("#6ac0ff", [(55, 512), (135, 512)]), (ORANGE, [(67, 527), (128, 527), (172, 463)]),
    ("#6ac0ff", [(54, 555), (185, 555)]), ("#6ac0ff", [(54, 558), (185, 558)]), ("#909090", [(50, 570), (190, 570)]), ("#404040", [(40, 581), (120, 581)]),
    ("#303030", [(74, 594), (135, 594)]), ("#f0b000", [(30, 605), (217, 605), (219, 602)]), ("black", [(139, 623), (148, 622), (156, 611)]),
]
for c, pts in LEADERS:
    path(pts, c, 1)

layout.update(width=W, height=H, margin=dict(l=0, r=0, t=0, b=0, autoexpand=False), paper_bgcolor="white", plot_bgcolor="rgba(0,0,0,0)", showlegend=False,
              barmode="overlay", bargap=0, shapes=shapes, annotations=annos, font=dict(family=FONT))
fig.update_layout(**layout)
fig.write_html("out.html", config=dict(displayModeBar=False),
               post_script="document.body.style.margin='0';document.documentElement.style.overflow='hidden';")
